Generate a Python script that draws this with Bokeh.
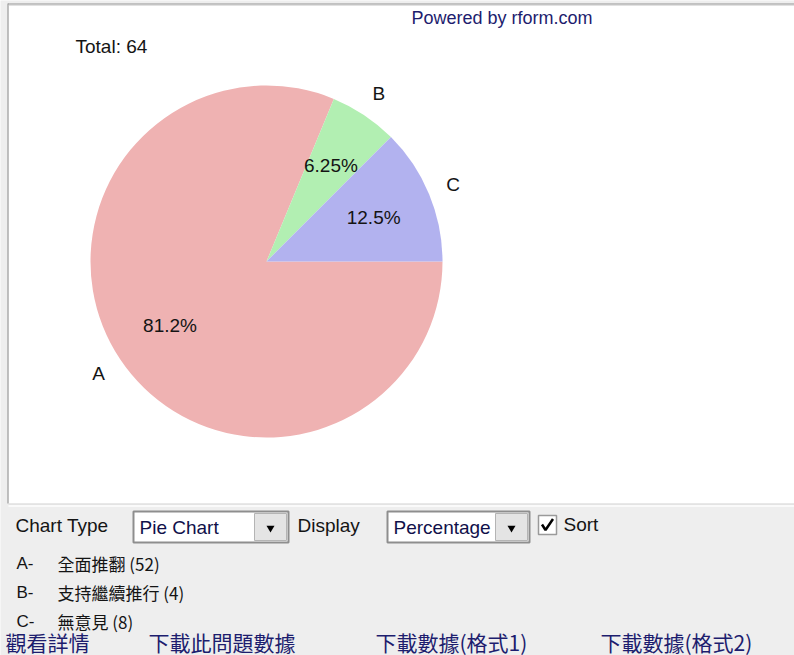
import math
from bokeh.plotting import figure
from bokeh.models import Range1d
from bokeh.core.properties import value
from bokeh.embed import file_html
from bokeh.resources import INLINE

# ---------------- data ----------------
categories = ["A", "B", "C"]
option_labels = ["全面推翻", "支持繼續推行", "無意見"]
counts = [52, 4, 8]
slice_colors = ["#efb2b2", "#b2efb2", "#b2b2ef"]
chart_type = "Pie Chart"
display_mode = "Percentage"
links = ["觀看詳情", "下載此問題數據", "下載數據(格式1)", "下載數據(格式2)"]
powered = "Powered by rform.com"

# ---------------- layout ----------------
W, H = 794, 655


def X(px):
    return px


def Y(py):
    return H - py


LATIN = value("Liberation Sans")
CJK = value("Noto Sans CJK TC")
INK = "#141414"
NAVY = "#1d1d6e"

p = figure(width=W, height=H, x_range=Range1d(0, W), y_range=Range1d(0, H),
           x_axis_type=None, y_axis_type=None, toolbar_location=None,
           output_backend="svg", min_border=0)
p.outline_line_color = None
p.background_fill_color = "#eeeeee"
p.border_fill_color = "#eeeeee"
p.xgrid.visible = False
p.ygrid.visible = False

# white chart panel with inset edge
p.quad(left=[X(8)], right=[X(800)], top=[Y(3)], bottom=[Y(503)],
       fill_color="white", line_color=None)
p.line(x=[X(7.5), X(7.5)], y=[Y(3), Y(503)], line_color="#8a8a8a", line_width=1)
p.line(x=[X(7.5), X(800)], y=[Y(3.5), Y(3.5)], line_color="#8a8a8a", line_width=1)
p.line(x=[X(8), X(800)], y=[Y(4.5), Y(4.5)], line_color="#c4c4c4", line_width=1)
p.line(x=[X(8), X(800)], y=[Y(503.5), Y(503.5)], line_color="#d8d8d8", line_width=1)
p.line(x=[X(8), X(800)], y=[Y(505.5), Y(505.5)], line_color="#fafafa", line_width=2)

# ---------------- pie ----------------
total = sum(counts)
cx, cy, R = X(266), Y(261), 176
cum = 0.0
starts, ends, mids = [], [], []
for c in counts:
    f0 = cum / total
    cum += c
    f1 = cum / total
    a0 = -f1 * 2 * math.pi
    a1 = -f0 * 2 * math.pi
    starts.append(a0)
    ends.append(a1)
    mids.append((a0 + a1) / 2)

p.wedge(x=[cx] * len(counts), y=[cy] * len(counts), radius=R, radius_units="screen",
        start_angle=starts, end_angle=ends, fill_color=slice_colors, line_color=None)

pct_text = [f"{100.0 * c / total:.3g}%" for c in counts]
lab_r, pct_r = 202, 116
p.text(x=[cx + lab_r * math.cos(m) for m in mids], y=[cy + lab_r * math.sin(m) for m in mids],
       text=categories, text_font=LATIN, text_font_size="19px", text_color=INK,
       text_align="center", text_baseline="middle")
p.text(x=[cx + pct_r * math.cos(m) for m in mids], y=[cy + pct_r * math.sin(m) for m in mids],
       text=pct_text, text_font=LATIN, text_font_size="19px", text_color=INK,
       text_align="center", text_baseline="middle")

p.text(x=[X(75)], y=[Y(46)], text=[f"Total: {total}"], text_font=LATIN,
       text_font_size="19px", text_color=INK, text_align="left", text_baseline="middle")
p.text(x=[X(411)], y=[Y(17)], text=[powered], text_font=LATIN,
       text_font_size="18px", text_color=NAVY, text_align="left", text_baseline="middle")

# ---------------- controls ----------------
def combo(x0, x1, label):
    p.quad(left=[X(x0)], right=[X(x1)], top=[Y(511)], bottom=[Y(542)],
           fill_color="white", line_color="#8e8e8e", line_width=2)
    p.quad(left=[X(x1 - 34)], right=[X(x1 - 2)], top=[Y(513)], bottom=[Y(540)],
           fill_color="#e4e4e4", line_color="#b4b4b4", line_width=1)
    p.scatter(x=[X(x1 - 18)], y=[Y(527.5)], marker="inverted_triangle", size=8,
              fill_color="black", line_color=None)
    p.text(x=[X(x0 + 6)], y=[Y(527)], text=[label], text_font=LATIN, text_font_size="19px",
           text_color="#10104a", text_align="left", text_baseline="middle")


p.text(x=[X(15)], y=[Y(525)], text=["Chart Type"], text_font=LATIN, text_font_size="19px",
       text_color=INK, text_align="left", text_baseline="middle")
combo(133, 288, chart_type)
p.text(x=[X(297)], y=[Y(525)], text=["Display"], text_font=LATIN, text_font_size="19px",
       text_color=INK, text_align="left", text_baseline="middle")
combo(387, 529, display_mode)

# checkbox
p.quad(left=[X(538)], right=[X(556)], top=[Y(515)], bottom=[Y(534)],
       fill_color="white", line_color="#9a9a9a", line_width=1.5)
p.line(x=[X(541.5), X(545), X(552.5)], y=[Y(524), Y(529.5), Y(518.5)],
       line_color="black", line_width=2.5)
p.text(x=[X(563)], y=[Y(524)], text=["Sort"], text_font=LATIN, text_font_size="19px",
       text_color=INK, text_align="left", text_baseline="middle")

# legend lines
for i, (cat, lab, c) in enumerate(zip(categories, option_labels, counts)):
    yy = Y(563 + 29 * i)
    p.text(x=[X(16)], y=[yy], text=[f"{cat}-"], text_font=LATIN, text_font_size="17px",
           text_color=INK, text_align="left", text_baseline="middle")
    p.text(x=[X(57)], y=[yy], text=[f"{lab} ({c})"], text_font=CJK, text_font_size="17px",
           text_color=INK, text_align="left", text_baseline="middle")

# link row along the bottom edge
link_x = [5, 148, 375, 600]
for lx, t in zip(link_x, links):
    p.text(x=[X(lx)], y=[Y(656)], text=[t], text_font=CJK, text_font_size="21px",
           text_color=NAVY, text_align="left", text_baseline="bottom")

open("out.html", "w").write(file_html(p, INLINE))
